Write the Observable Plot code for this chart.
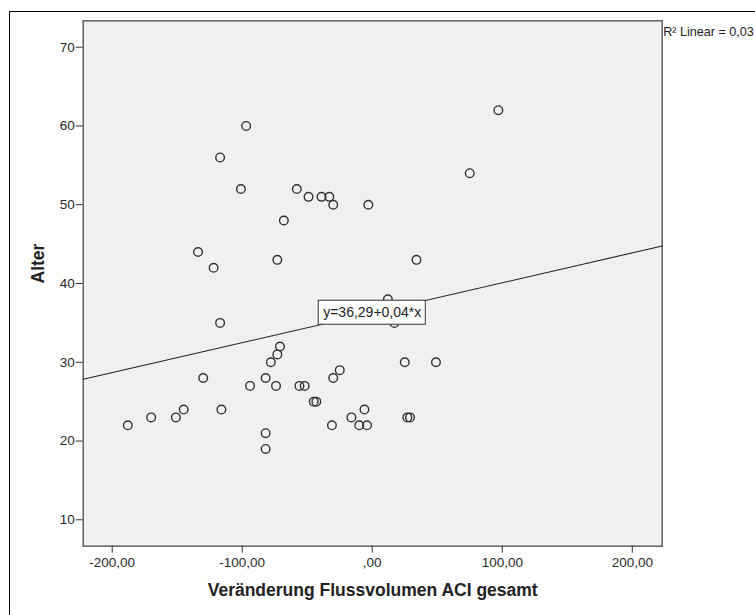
<!DOCTYPE html>
<html><head><meta charset="utf-8">
<script src="https://cdn.jsdelivr.net/npm/d3@7"></script>
<script src="https://cdn.jsdelivr.net/npm/@observablehq/plot@0.6"></script>
<style>
body{margin:0;background:#fff;}
#wrap{position:relative;width:755px;height:615px;overflow:hidden;background:#fff;}
#chart{position:absolute;left:0;top:0;}
#frame{position:absolute;left:9px;top:11px;width:800px;height:700px;border:1.5px solid #000;pointer-events:none;box-sizing:border-box;}
</style></head><body>
<div id="wrap"><div id="chart"></div><div id="frame"></div></div>
<script>
// Veränderung Flussvolumen ACI gesamt (x) and Alter (y)
const change = [-188,-170,-151,-145,-134,-130,-122,-117,-117,-116,-101,-97,-94,-82,-82,-82,-78,-74,-73,-73,-71,-68,-58,-56,-52,-49,-45,-43,-39,-33,-31,-30,-30,-25,-16,-10,-6,-4,-3,12,17,25,27,29,34,49,75,97];
const age    = [22,23,23,24,44,28,42,56,35,24,52,60,27,28,21,19,30,27,43,31,32,48,52,27,27,51,25,25,51,51,22,50,28,29,23,22,24,22,50,38,35,30,23,23,43,30,54,62];
const xTicks = [-200,-100,0,100,200];
const yTicks = [10,20,30,40,50,60,70];
const xDomain = [-222.3, 223];
const yDomain = [6.65, 73.35];
const intercept = 36.29;
const slope = 0.038;
const eqLabel = "y=36,29+0,04*x";
const r2Label = "R² Linear = 0,03";
const xTitle = "Veränderung Flussvolumen ACI gesamt";
const yTitle = "Alter";

const points = change.map((x, i) => ({x, y: age[i]}));
const fitLine = xDomain.map(x => ({x, y: intercept + slope * x}));
const fmtX = d => d === 0 ? ",00" : d.toFixed(2).replace(".", ",");

const chart = Plot.plot({
  width: 755, height: 615,
  marginLeft: 82.7, marginTop: 20.3, marginRight: 93.3, marginBottom: 69.3,
  style: {fontFamily: "'Liberation Sans', Arial, sans-serif", fontSize: "13.5px", color: "#333", background: "transparent", overflow: "visible"},
  x: {domain: xDomain},
  y: {domain: yDomain},
  marks: [
    Plot.frame({fill: "#f0f0f0", stroke: "#606060", strokeWidth: 1.5}),
    Plot.axisX({ticks: xTicks, tickFormat: fmtX, tickSize: 7, tickPadding: 4, label: null, stroke: "#333", fill: "#2a2a2a"}),
    Plot.axisY({ticks: yTicks, tickSize: 7, tickPadding: 1.5, label: null, stroke: "#333", fill: "#2a2a2a"}),
    Plot.line(fitLine, {x: "x", y: "y", stroke: "#222", strokeWidth: 1.1}),
    Plot.dot(points, {x: "x", y: "y", r: 4.3, stroke: "#333", strokeWidth: 1.4, fill: "none"}),
    Plot.text([eqLabel], {x: () => 0, y: () => intercept, text: d => d, fontSize: 14, fill: "#222"}),
    Plot.text([r2Label], {frameAnchor: "top-right", dx: 1, dy: 11, text: d => d, textAnchor: "start", lineAnchor: "middle", fontSize: 12.6, fill: "#222"}),
    Plot.text([yTitle], {frameAnchor: "left", dx: -45, rotate: -90, text: d => d, fontSize: 17.5, fontWeight: "bold", fill: "#222"}),
    Plot.text([xTitle], {frameAnchor: "bottom", dy: 44.5, lineAnchor: "middle", text: d => d, fontSize: 17.5, fontWeight: "bold", fill: "#222"})
  ]
});
document.getElementById("chart").appendChild(chart);

// white box behind the equation label, centred on the fit line at x = 0
const eqText = Array.from(chart.querySelectorAll("text")).find(t => t.textContent === eqLabel);
if (eqText) {
  const sx = chart.scale("x"), sy = chart.scale("y");
  const cx = sx.apply(0), cy = sy.apply(intercept);
  const w = eqText.getComputedTextLength() + 9, h = 24;
  const g = eqText.parentNode;
  const rect = document.createElementNS("http://www.w3.org/2000/svg", "rect");
  rect.setAttribute("x", cx - w / 2);
  rect.setAttribute("y", cy - h / 2);
  rect.setAttribute("width", w);
  rect.setAttribute("height", h);
  rect.setAttribute("fill", "#fff");
  rect.setAttribute("stroke", "#333");
  rect.setAttribute("stroke-width", "1");
  g.parentNode.insertBefore(rect, g);
}
</script>
</body></html>
